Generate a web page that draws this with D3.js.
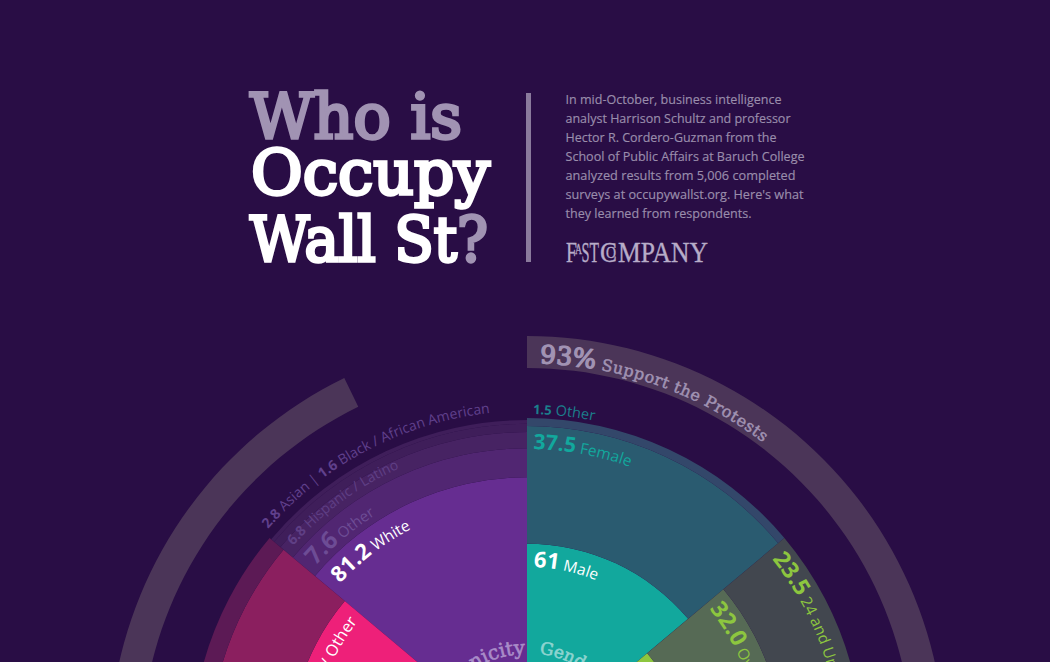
<!DOCTYPE html>
<html>
<head>
<meta charset="utf-8">
<script src="https://cdn.jsdelivr.net/npm/d3@7"></script>
<style>
  html, body { margin: 0; padding: 0; background: #fff; overflow: hidden; }
  svg { display: block; }
</style>
</head>
<body>
<svg id="chart"></svg>
<script>
// survey shares, in percent, as labelled
const supportShare = 93;
const genderCategories = ["Male", "Female", "Other"];
const genderValues = [61, 37.5, 1.5];
const ethnicityCategories = ["White", "Other", "Hispanic / Latino", "Asian", "Black / African American"];
const ethnicityValues = [81.2, 7.6, 6.8, 2.8, 1.6];
const ageCategories = ["25 to 44", "Over 45", "24 and Under"];
const ageValues = [44.5, 32.0, 23.5];

// band edges as they sit in the picture (percent of the full radius)
const supportEdge = 92.8;
const genderEdges = [62.6, 97.6, 100];
const ethnicityEdges = [82.4, 91, 95.8, 98.3, 99.4];
const ageEdges = [46.7, 76.3, 100];
const politicsEdges = [70.8, 94.6, 100];

const introLines = [
  "In mid-October, business intelligence",
  "analyst Harrison Schultz and professor",
  "Hector R. Cordero-Guzman from the",
  "School of Public Affairs at Baruch College",
  "analyzed results from 5,006 completed",
  "surveys at occupywallst.org. Here's what",
  "they learned from respondents."
];
const introWidths = [216, 225, 211, 239, 230, 238, 186];

const width = 1050, height = 662;
const cx = 527, cy = 754;
const slab = "'DejaVu Serif', serif";
const sans = "'Open Sans', sans-serif";

const svg = d3.select("#chart").attr("width", width).attr("height", height);
svg.append("rect").attr("width", width).attr("height", height).attr("fill", "#290d45");

// Title: regular weight with a stroke keeps the slab look fairly monoline
const title = svg.append("g").attr("font-family", slab).attr("font-size", 61);
const titleRows = [
  { y: 138, x: 250, w: 212, parts: [["Who is", "#a193b3"]] },
  { y: 194, x: 251, w: 239, parts: [["Occupy", "#ffffff"]] },
  { y: 261, x: 250, w: 238, parts: [["Wall St", "#ffffff"], ["?", "#a193b3"]] }
];
titleRows.forEach((row) => {
  const t = title.append("text").attr("x", row.x).attr("y", row.y)
    .attr("textLength", row.w).attr("lengthAdjust", "spacingAndGlyphs");
  row.parts.forEach((p) => t.append("tspan").attr("fill", p[1])
    .attr("stroke", p[1]).attr("stroke-width", 3.3).text(p[0]));
});

svg.append("rect").attr("x", 526).attr("y", 93).attr("width", 5).attr("height", 169).attr("fill", "#8a7a9c");

// Intro copy
svg.append("g").selectAll("text").data(introLines).enter().append("text")
  .attr("x", 565.5)
  .attr("y", (d, i) => 104 + i * 19)
  .attr("textLength", (d, i) => introWidths[i])
  .attr("lengthAdjust", "spacingAndGlyphs")
  .attr("font-family", sans).attr("font-size", 12.5)
  .attr("fill", "#9a8dac")
  .attr("stroke", "#9a8dac").attr("stroke-width", 0.15)
  .text((d) => d);

// Logo, piece by piece
const logo = svg.append("g").attr("font-family", "'Liberation Serif', serif")
  .attr("fill", "#b7acc8").attr("stroke", "#b7acc8").attr("stroke-width", 0.35);
const logoPiece = (s, x, y, size, w) => logo.append("text").attr("x", x).attr("y", y).attr("font-size", size)
  .attr("textLength", w).attr("lengthAdjust", "spacingAndGlyphs").text(s);
logoPiece("F", 566, 262, 30, 11);
logoPiece("A", 575, 254, 14, 7);
logoPiece("S", 581.5, 262, 30, 8);
logoPiece("T", 589.5, 262, 30, 9.5);
logoPiece("C", 600, 262, 30, 17);
logoPiece("O", 606, 258, 16, 10);
logoPiece("MPANY", 618, 262, 30, 90);

// Scales
const radius = d3.scaleLinear().domain([0, 100]).range([0, 336]);
const ringAngle = d3.scaleLinear().domain([0, 100]).range([0, 2 * Math.PI]);
const deg = (d) => (d * Math.PI) / 180;

const chart = svg.append("g").attr("transform", `translate(${cx},${cy})`);
const arc = d3.arc();

// Support ring
chart.append("path")
  .attr("d", arc({ innerRadius: 386, outerRadius: 418, startAngle: 0, endAngle: ringAngle(supportEdge) }))
  .attr("fill", "#4b3558");

function sector(edges, colors, a0, a1) {
  const bands = edges.map((e, i) => ({ inner: i ? edges[i - 1] : 0, outer: e, color: colors[i] }));
  chart.append("g").selectAll("path").data(bands).enter().append("path")
    .attr("d", (d) => arc({
      innerRadius: radius(d.inner), outerRadius: radius(d.outer),
      startAngle: deg(a0), endAngle: deg(a1)
    }))
    .attr("fill", (d) => d.color);
}
sector(genderEdges, ["#12a89d", "#2a5b70", "#33476a"], 0, 50);
sector(ethnicityEdges, ["#662d91", "#512672", "#472363", "#3f1e5a", "#3f1e5a"], -50, 0);
sector(ageEdges, ["#8dc63f", "#566a55", "#42474f"], 50, 100);
sector(politicsEdges, ["#ee2079", "#8b1f5f", "#5c1a55"], -100, -50);

// Curved labels: clockwise circle of radius r, text starts or ends at angle a
let pathId = 0;
const defs = svg.append("defs");
function arcLabel(r, a, parts, anchor) {
  const id = "lab" + pathId++;
  const p = d3.path();
  p.arc(cx, cy, r, deg(a - 270), deg(a + 90));
  defs.append("path").attr("id", id).attr("d", p.toString());
  const t = svg.append("text").attr("text-anchor", anchor === "end" ? "end" : "start");
  const tp = t.append("textPath").attr("href", "#" + id).attr("startOffset", "50%");
  parts.forEach((d) => {
    tp.append("tspan")
      .attr("font-family", d.font || sans)
      .attr("font-size", d.size)
      .attr("font-weight", d.weight || "normal")
      .attr("letter-spacing", d.spacing || 0)
      .attr("fill", d.color)
      .attr("stroke", d.stroke ? d.color : "none")
      .attr("stroke-width", d.stroke || 0)
      .text(d.text);
  });
}
const val = (text, size, color) => ({ text, size, color, weight: "bold" });
const lab = (text, size, color) => ({ text, size, color });
const slabText = (text, size, color, stroke, spacing) => ({ text, size, color, font: slab, stroke, spacing });

arcLabel(391, 1.9, [slabText(supportShare + "%", 25, "#a193b3", 1.4), slabText(" Support the Protests", 16, "#a193b3", 0.5, 0.55)]);
arcLabel(340, 1, [val("1.5", 13, "#1b7f8c"), lab("  Other", 14.5, "#1b7f8c")]);
arcLabel(305, 1.2, [val("37.5", 21, "#12a89d"), lab(" Female", 15.5, "#12a89d")]);
arcLabel(187, 2, [val("61", 22, "#ffffff"), lab("  Male", 15.5, "#ffffff")]);
arcLabel(101, 7, [slabText("Gender", 17, "#8ed4d0", 0.6)]);
arcLabel(100, -1, [slabText("Ethnicity", 19.5, "#a98cc8", 0.6)], "end");
arcLabel(313, 51.5, [val("23.5", 23, "#8dc63f"), lab(" 24 and Under", 15.5, "#8dc63f")]);
arcLabel(233, 51.5, [val("32.0", 23, "#8dc63f"), lab(" Over 45", 15.5, "#8dc63f")]);

arcLabel(343, -49, [val("2.8", 14, "#60408c"), lab(" Asian  |  ", 14, "#60408c"), val("1.6", 14, "#60408c"), lab(" Black / African American", 14, "#60408c")]);
arcLabel(313, -48.3, [val("6.8", 14, "#5f3f85"), lab(" Hispanic / Latino", 14, "#5f3f85")]);
arcLabel(283, -48.4, [val("7.6", 24, "#6d4c95"), lab(" Other", 15, "#6d4c95")]);
arcLabel(253, -47.6, [val("81.2", 22, "#ffffff"), lab(" White", 15.5, "#ffffff")]);
arcLabel(215, -52, [lab("/ Other", 16, "#ffffff")], "end");
</script>
</body>
</html>
